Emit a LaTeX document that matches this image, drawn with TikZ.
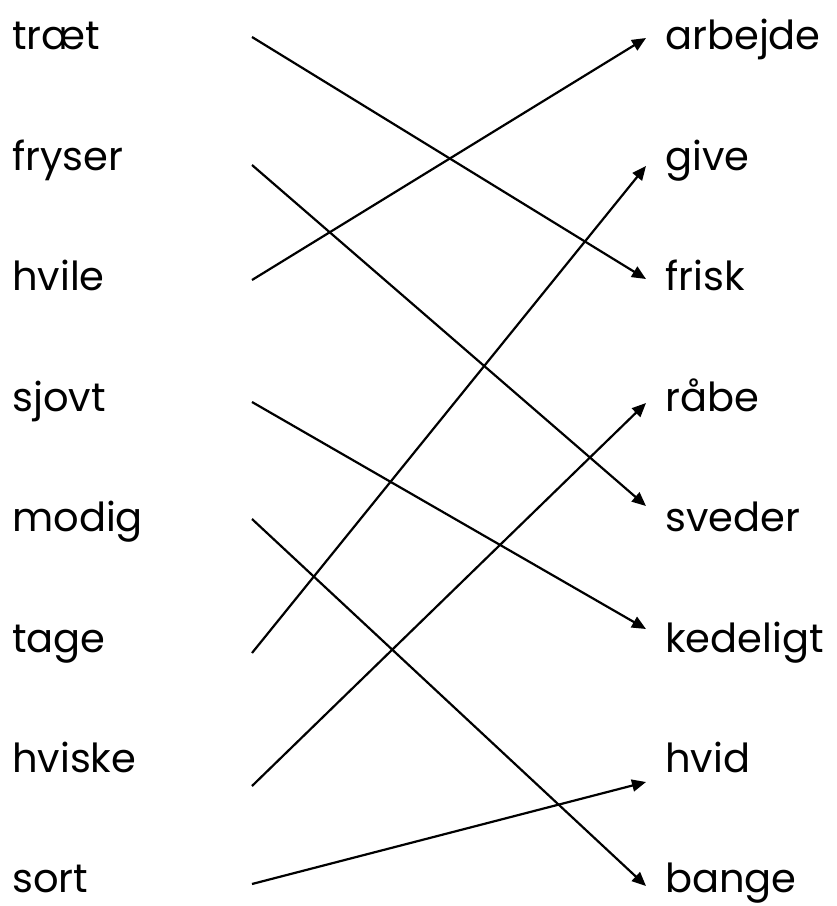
\documentclass[tikz,border=0pt]{standalone}
\usepackage{fontspec}
\setmainfont{Poppins}
\usetikzlibrary{arrows.meta}
\begin{document}
\begin{tikzpicture}[x=1pt,y=-1pt,
  word/.style={anchor=base west,inner sep=0pt,font=\fontsize{40}{46}\selectfont},
  link/.style={line width=2.2pt,-{Triangle[length=14pt,width=12pt]}}]
\useasboundingbox (0,0) rectangle (837,906);
% left words
\node[word] (traet) at (12,49) {træt};
\node[word] (fryser) at (12,170) {fryser};
\node[word] (hvile) at (12,290) {hvile};
\node[word] (sjovt) at (12,411) {sjovt};
\node[word] (modig) at (12,531) {modig};
\node[word] (tage) at (12,652) {tage};
\node[word] (hviske) at (12,772) {hviske};
\node[word] (sort) at (12,892) {sort};
% right words
\node[word] (arbejde) at (665,49) {arbejde};
\node[word] (give) at (665,170) {give};
\node[word] (frisk) at (665,290) {frisk};
\node[word] (raabe) at (665,411) {råbe};
\node[word] (sveder) at (665,531) {sveder};
\node[word] (kedeligt) at (665,652) {kedeligt};
\node[word] (hvid) at (665,772) {hvid};
\node[word] (bange) at (665,892) {bange};
% connector ends
\coordinate (s1) at (252,37);
\coordinate (s2) at (252,165);
\coordinate (s3) at (252,280);
\coordinate (s4) at (252,402);
\coordinate (s5) at (252,519);
\coordinate (s6) at (252,653);
\coordinate (s7) at (252,786);
\coordinate (s8) at (252,884);
\coordinate (e1) at (646,38);
\coordinate (e2) at (646,166);
\coordinate (e3) at (646,279);
\coordinate (e4) at (646,403);
\coordinate (e5) at (646,506);
\coordinate (e6) at (646,629);
\coordinate (e7) at (646,782);
\coordinate (e8) at (646,886);
\draw[link] (s1) -- (e3);
\draw[link] (s2) -- (e5);
\draw[link] (s3) -- (e1);
\draw[link] (s4) -- (e6);
\draw[link] (s5) -- (e8);
\draw[link] (s6) -- (e2);
\draw[link] (s7) -- (e4);
\draw[link] (s8) -- (e7);
\end{tikzpicture}
\end{document}
